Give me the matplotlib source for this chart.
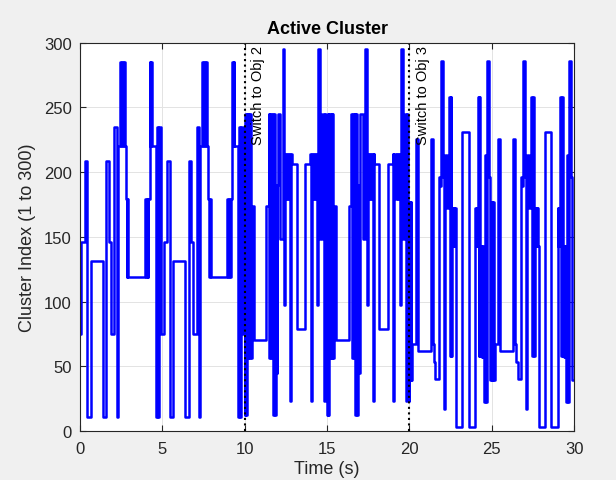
import numpy as np
import matplotlib.pyplot as plt

# one 5 s cycle per objective (time from cycle start, cluster index)
obj1_t = [0.00, 0.08, 0.27, 0.45, 0.64, 1.40, 1.59, 1.76, 1.88, 2.07, 2.24, 2.30,
          2.42, 2.48, 2.54, 2.60, 2.66, 2.72, 2.77, 2.82, 2.87, 2.92,
          3.95, 4.00, 4.05, 4.10, 4.15, 4.22, 4.27, 4.32, 4.37, 4.43,
          4.60, 4.67, 4.72, 4.77, 4.90]
obj1_v = [75, 146, 209, 11, 131, 11, 209, 146, 75, 235, 11, 220,
          285, 220, 285, 220, 285, 220, 179, 119, 179, 119,
          179, 119, 179, 119, 179, 285, 220, 285, 220, 220,
          11, 235, 11, 235, 75]

obj2_t = [0.00, 0.04, 0.08, 0.12, 0.18, 0.22, 0.28, 0.32, 0.38, 0.43, 0.57,
          1.31, 1.45, 1.50, 1.55, 1.62, 1.68, 1.72, 1.76, 1.82, 1.88, 1.93, 1.97,
          2.02, 2.15, 2.30, 2.40, 2.46, 2.52, 2.58, 2.64, 2.70, 2.76, 2.82, 2.87,
          3.15, 3.68, 3.98, 4.02, 4.08, 4.16, 4.22, 4.28, 4.34, 4.40, 4.46, 4.58,
          4.72, 4.80, 4.86, 4.92, 4.97]
obj2_v = [12, 245, 12, 245, 56, 245, 56, 245, 56, 174, 70,
          174, 245, 56, 245, 56, 245, 12, 245, 12, 190, 45, 190,
          245, 148, 295, 97, 214, 179, 214, 179, 214, 23, 214, 206,
          79, 206, 214, 23, 214, 179, 214, 179, 214, 97, 295, 148,
          245, 23, 245, 169, 23]

obj3_t = [0.00, 0.04, 0.08, 0.12, 0.18, 0.40, 0.52, 1.30, 1.42, 1.50, 1.58,
          1.80, 1.85, 1.90, 2.04, 2.08, 2.16, 2.26, 2.40, 2.46, 2.50, 2.54,
          2.60, 2.64, 2.68, 2.72, 2.76, 2.80, 2.84, 3.22, 3.60,
          4.00, 4.04, 4.08, 4.12, 4.16, 4.20, 4.24, 4.30, 4.34, 4.38, 4.42, 4.46,
          4.52, 4.58, 4.64, 4.70, 4.82, 4.90]
obj3_v = [177, 39, 177, 39, 67, 226, 62, 226, 67, 53, 40,
          196, 189, 286, 196, 17, 213, 172, 258, 58, 258, 58,
          172, 143, 172, 143, 172, 143, 3, 231, 3,
          172, 143, 172, 143, 258, 58, 258, 58, 143, 57, 143, 57,
          22, 213, 22, 286, 196, 39]

switch_times = [10, 20]
switch_labels = ['Switch to Obj 2', 'Switch to Obj 3']

# two cycles per objective
t = np.concatenate([np.array(obj1_t), np.array(obj1_t) + 5,
                    np.array(obj2_t) + 10, np.array(obj2_t) + 15,
                    np.array(obj3_t) + 20, np.array(obj3_t) + 25, [30]])
v = np.concatenate([obj1_v, obj1_v, obj2_v, obj2_v, obj3_v, obj3_v, [obj3_v[-1]]])

plt.rcParams['font.family'] = ['Liberation Sans', 'DejaVu Sans']

fig = plt.figure(figsize=(6.16, 4.81), dpi=100, facecolor='#f0f0f0')
ax = fig.add_axes([0.130, 0.102, 0.802, 0.807])
ax.set_facecolor('white')

ax.step(t, v, where='post', color='blue', linewidth=1.8,
        solid_joinstyle='round', solid_capstyle='round')

for xs, lab in zip(switch_times, switch_labels):
    ax.axvline(xs, color='black', linestyle=':', linewidth=1.5)
    ax.text(xs + 0.4, 298, lab, rotation=90, ha='left', va='top', fontsize=10.5)

ax.set_xlim(0, 30)
ax.set_ylim(0, 300)
ax.set_xticks(range(0, 31, 5))
ax.set_yticks(range(0, 301, 50))
ax.grid(True, color='#e3e3e3', linewidth=0.7)
ax.set_axisbelow(True)
ax.tick_params(direction='in', top=True, right=True, labelsize=12, colors='#262626', length=4)
ax.tick_params(axis='x', pad=7)
ax.tick_params(axis='y', pad=6)
for s in ax.spines.values():
    s.set_color('#262626')
    s.set_linewidth(0.8)

ax.set_title('Active Cluster', fontsize=13, fontweight='bold', pad=7)
ax.set_xlabel('Time (s)', fontsize=13, color='#262626', labelpad=3)
ax.set_ylabel('Cluster Index (1 to 300)', fontsize=13, color='#262626', labelpad=6)

fig.savefig('out.png', dpi=100, facecolor=fig.get_facecolor())
